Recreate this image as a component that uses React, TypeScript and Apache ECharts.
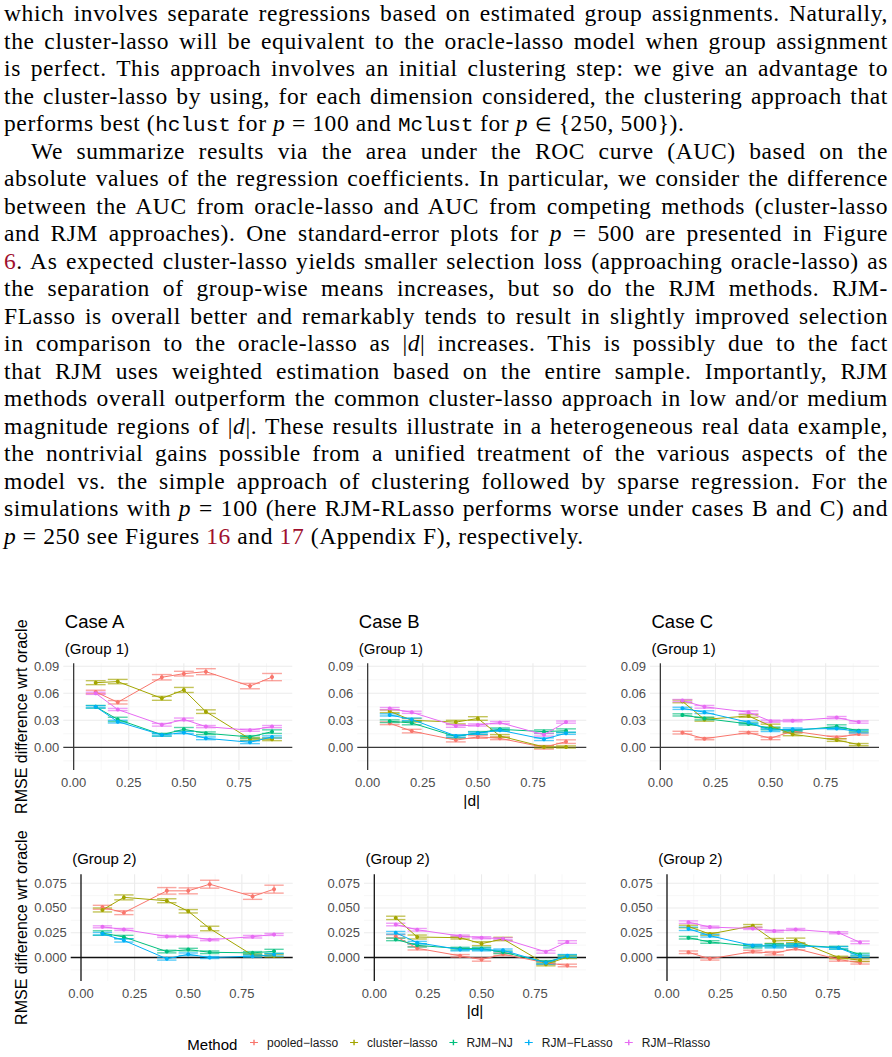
import React, { useEffect, useRef } from "react";
import * as echarts from "echarts";

// ---------------- data ----------------
const dValues = [0.1, 0.2, 0.4, 0.5, 0.6, 0.8, 0.9];
const methods = ["pooled\u2212lasso", "cluster\u2212lasso", "RJM\u2212NJ", "RJM\u2212FLasso", "RJM\u2212Rlasso"];
const colors = ["#F8766D", "#A3A500", "#00BF7D", "#00B0F6", "#E76BF3"];
const caseTitles = ["Case A", "Case B", "Case C"];
const groupTitles = ["(Group 1)", "(Group 2)"];
const xTicks = [0, 0.25, 0.5, 0.75];
const xMinor = [0.125, 0.375, 0.625, 0.875];
const yTicksG1 = [0, 0.03, 0.06, 0.09];
const yMinorG1 = [-0.015, 0.015, 0.045, 0.075];
const yTicksG2 = [0, 0.025, 0.05, 0.075];
const yMinorG2 = [-0.0125, 0.0125, 0.0375, 0.0625];

// Case A, Group 1
const A1_pooled = [0.0615, 0.05, 0.0778, 0.0818, 0.084, 0.068, 0.078];
const A1_cluster = [0.0718, 0.073, 0.0544, 0.0637, 0.0396, 0.0093, 0.0089];
const A1_nj = [0.045, 0.031, 0.014, 0.02, 0.0156, 0.0115, 0.0174];
const A1_flasso = [0.045, 0.0285, 0.0137, 0.0163, 0.01, 0.0056, 0.0115];
const A1_rlasso = [0.06, 0.042, 0.025, 0.031, 0.023, 0.019, 0.023];
// Case B, Group 1
const B1_pooled = [0.0267, 0.018, 0.008, 0.0115, 0.01, 0.0, 0.0063];
const B1_cluster = [0.04, 0.03, 0.028, 0.032, 0.0126, 0.0004, 0.0004];
const B1_nj = [0.029, 0.027, 0.012, 0.016, 0.02, 0.0174, 0.0185];
const B1_flasso = [0.036, 0.031, 0.0126, 0.0156, 0.019, 0.009, 0.0156];
const B1_rlasso = [0.043, 0.0389, 0.0237, 0.0248, 0.0274, 0.014, 0.028];
// Case C, Group 1
const C1_pooled = [0.0163, 0.0096, 0.0163, 0.01, 0.018, 0.011, 0.0148];
const C1_cluster = [0.051, 0.031, 0.0348, 0.0237, 0.0144, 0.0081, 0.003];
const C1_nj = [0.036, 0.032, 0.026, 0.021, 0.0185, 0.023, 0.0185];
const C1_flasso = [0.0433, 0.039, 0.0278, 0.019, 0.02, 0.021, 0.0174];
const C1_rlasso = [0.0519, 0.045, 0.039, 0.029, 0.0296, 0.033, 0.028];
// Case A, Group 2
const A2_pooled = [0.0507, 0.0453, 0.0673, 0.0673, 0.074, 0.0617, 0.069];
const A2_cluster = [0.048, 0.0607, 0.0573, 0.0467, 0.0293, 0.0023, 0.0017];
const A2_nj = [0.0247, 0.0207, 0.006, 0.008, 0.0053, 0.0047, 0.0063];
const A2_flasso = [0.024, 0.0173, -0.0013, 0.0033, 0.0, 0.0013, 0.0027];
const A2_rlasso = [0.031, 0.0283, 0.0213, 0.0213, 0.018, 0.021, 0.0233];
// Case B, Group 2
const B2_pooled = [0.0213, 0.0093, 0.0017, -0.002, 0.0033, -0.0053, -0.008];
const B2_cluster = [0.04, 0.0207, 0.02, 0.014, 0.0187, -0.0067, 0.0003];
const B2_nj = [0.0183, 0.0123, 0.009, 0.009, 0.0053, -0.0047, 0.0013];
const B2_flasso = [0.025, 0.015, 0.008, 0.008, 0.0073, -0.0053, 0.0017];
const B2_rlasso = [0.0333, 0.028, 0.0217, 0.02, 0.019, 0.0057, 0.0157];
// Case C, Group 2
const C2_pooled = [0.0053, -0.0013, 0.006, 0.0043, 0.009, -0.002, -0.0053];
const C2_cluster = [0.0313, 0.0237, 0.032, 0.0167, 0.0173, 0.0, -0.0027];
const C2_nj = [0.02, 0.0157, 0.0113, 0.0123, 0.0127, 0.01, 0.003];
const C2_flasso = [0.029, 0.022, 0.012, 0.0113, 0.012, 0.0097, 0.0013];
const C2_rlasso = [0.0357, 0.0307, 0.0293, 0.0267, 0.0283, 0.025, 0.0153];

// standard errors (one per method, per panel)
const seA1 = [
  [0.0019, 0.0019, 0.003, 0.0026, 0.0033, 0.003, 0.004],
  [0.0022, 0.0024, 0.0022, 0.0028, 0.002, 0.0015, 0.0015],
  [0.0015, 0.0024, 0.0015, 0.002, 0.0015, 0.0015, 0.002],
  [0.0012, 0.0015, 0.0012, 0.0012, 0.0015, 0.0015, 0.0012],
  [0.0012, 0.0012, 0.0015, 0.0015, 0.0012, 0.0012, 0.0012],
];
const seB1 = [
  [0.0015, 0.002, 0.002, 0.0015, 0.0015, 0.002, 0.002],
  [0.0015, 0.002, 0.002, 0.002, 0.0015, 0.0012, 0.0012],
  [0.0015, 0.002, 0.0015, 0.0015, 0.0015, 0.002, 0.002],
  [0.0012, 0.0015, 0.0012, 0.0012, 0.0012, 0.0015, 0.0012],
  [0.0012, 0.0012, 0.0015, 0.0012, 0.0012, 0.0015, 0.0012],
];
const seC1 = [
  [0.0015, 0.0012, 0.0012, 0.0015, 0.0015, 0.0015, 0.0012],
  [0.0015, 0.002, 0.0015, 0.002, 0.0015, 0.0015, 0.0012],
  [0.0012, 0.0015, 0.0012, 0.0015, 0.0012, 0.002, 0.0012],
  [0.0012, 0.0015, 0.0015, 0.0015, 0.0015, 0.0012, 0.0015],
  [0.0012, 0.0015, 0.0015, 0.0012, 0.0012, 0.0012, 0.0012],
];
const seA2 = [
  [0.002, 0.002, 0.0033, 0.003, 0.004, 0.003, 0.004],
  [0.002, 0.0025, 0.002, 0.0017, 0.0023, 0.0013, 0.0013],
  [0.0023, 0.0017, 0.0013, 0.0013, 0.0013, 0.0013, 0.002],
  [0.0013, 0.0017, 0.0013, 0.0013, 0.001, 0.001, 0.0013],
  [0.001, 0.001, 0.001, 0.001, 0.001, 0.0013, 0.001],
];
const seB2 = [
  [0.0017, 0.0017, 0.0013, 0.0017, 0.0013, 0.0017, 0.0013],
  [0.0017, 0.002, 0.0013, 0.002, 0.0017, 0.0017, 0.0013],
  [0.0013, 0.0017, 0.0013, 0.0013, 0.0013, 0.0017, 0.0013],
  [0.0013, 0.0013, 0.0013, 0.0013, 0.0013, 0.0013, 0.0013],
  [0.0013, 0.0013, 0.001, 0.001, 0.001, 0.0013, 0.0013],
];
const seC2 = [
  [0.0013, 0.0013, 0.0013, 0.0017, 0.0013, 0.0017, 0.0013],
  [0.0013, 0.0013, 0.0013, 0.0025, 0.0023, 0.0013, 0.0013],
  [0.0013, 0.0013, 0.0017, 0.0017, 0.0013, 0.0013, 0.0013],
  [0.0017, 0.0013, 0.0013, 0.0017, 0.0017, 0.0013, 0.0013],
  [0.0013, 0.001, 0.001, 0.001, 0.001, 0.001, 0.0013],
];

const panelMeans = [
  [A1_pooled, A1_cluster, A1_nj, A1_flasso, A1_rlasso],
  [B1_pooled, B1_cluster, B1_nj, B1_flasso, B1_rlasso],
  [C1_pooled, C1_cluster, C1_nj, C1_flasso, C1_rlasso],
  [A2_pooled, A2_cluster, A2_nj, A2_flasso, A2_rlasso],
  [B2_pooled, B2_cluster, B2_nj, B2_flasso, B2_rlasso],
  [C2_pooled, C2_cluster, C2_nj, C2_flasso, C2_rlasso],
];
const panelSes = [seA1, seB1, seC1, seA2, seB2, seC2];

// ---------------- layout ----------------
const FONT = "Liberation Sans, Arial, sans-serif";
const topLefts = [63.3, 357.3, 650];
const botLefts = [70.7, 364, 656.7];
const layout = [0, 1, 2, 3, 4, 5].map((i) => {
  const row = i < 3 ? 0 : 1;
  const col = i % 3;
  return row === 0
    ? { left: topLefts[col], top: 663.3, width: 229, height: 106.7, xMin: -0.047, xMax: 0.992, yMin: -0.0252, yMax: 0.0933, row, col }
    : { left: botLefts[col], top: 874.3, width: 222, height: 106.7, xMin: -0.048, xMax: 0.987, yMin: -0.0237, yMax: 0.084, row, col };
});

function buildOption() {
  const grid: any[] = [];
  const xAxis: any[] = [];
  const yAxis: any[] = [];
  const series: any[] = [];
  const graphic: any[] = [];

  layout.forEach((p, i) => {
    grid.push({ left: p.left, top: p.top, width: p.width, height: p.height, containLabel: false });
    xAxis.push({
      gridIndex: i, type: "value", min: p.xMin, max: p.xMax,
      axisLine: { show: false }, axisTick: { show: false }, splitLine: { show: false },
      axisLabel: { customValues: xTicks, formatter: (v: number) => v.toFixed(2), color: "#4D4D4D", fontSize: 13, margin: 6, fontFamily: FONT },
    });
    const yt = p.row === 0 ? yTicksG1 : yTicksG2;
    const ym = p.row === 0 ? yMinorG1 : yMinorG2;
    const dig = p.row === 0 ? 2 : 3;
    yAxis.push({
      gridIndex: i, type: "value", min: p.yMin, max: p.yMax,
      axisLine: { show: false }, axisTick: { show: false }, splitLine: { show: false },
      axisLabel: { customValues: yt, formatter: (v: number) => v.toFixed(dig), color: "#4D4D4D", fontSize: 13, margin: 4, fontFamily: FONT },
    });

    // grid lines (kind: 0 major x, 1 minor x, 2 major y, 3 minor y, 4 zero vline, 5 zero hline)
    const gl: number[][] = [];
    xTicks.filter((v) => v !== 0).forEach((v) => gl.push([v, 0]));
    xMinor.forEach((v) => gl.push([v, 1]));
    yt.filter((v) => v !== 0).forEach((v) => gl.push([v, 2]));
    ym.forEach((v) => gl.push([v, 3]));
    gl.push([0, 4]);
    gl.push([0, 5]);
    const zeroColor = p.row === 0 ? "#3a3a3a" : "#111";
    series.push({
      type: "custom", xAxisIndex: i, yAxisIndex: i, silent: true, z: 0, clip: false,
      data: gl,
      renderItem: (params: any, api: any) => {
        const v = api.value(0);
        const k = api.value(1);
        const cs = params.coordSys;
        let stroke = "#EBEBEB";
        let lw = 1.1;
        if (k === 1 || k === 3) { stroke = "#F3F3F3"; lw = 0.7; }
        if (k >= 4) { stroke = zeroColor; lw = 1.3; }
        if (k === 0 || k === 1 || k === 4) {
          const px = api.coord([v, 0])[0];
          return { type: "line", z2: k >= 4 ? 10 : 0, shape: { x1: px, y1: cs.y, x2: px, y2: cs.y + cs.height }, style: { stroke, lineWidth: lw } };
        }
        const py = api.coord([0, v])[1];
        return { type: "line", z2: k >= 4 ? 10 : 0, shape: { x1: cs.x, y1: py, x2: cs.x + cs.width, y2: py }, style: { stroke, lineWidth: lw } };
      },
    });

    methods.forEach((m, mi) => {
      const mean = panelMeans[i][mi];
      const se = panelSes[i][mi];
      const color = colors[mi];
      series.push({
        type: "custom", name: m, xAxisIndex: i, yAxisIndex: i, silent: true, z: 2, clip: false,
        itemStyle: { color },
        encode: { x: 0, y: 1 },
        data: dValues.map((d, j) => [d, mean[j], se[j]]),
        renderItem: (_params: any, api: any) => {
          const x = api.value(0);
          const y = api.value(1);
          const s = api.value(2);
          const top = api.coord([x, y + s]);
          const bot = api.coord([x, y - s]);
          const l = api.coord([x - 0.045, y])[0];
          const r = api.coord([x + 0.045, y])[0];
          const st = { stroke: color, lineWidth: 1.4, opacity: 0.65 };
          return {
            type: "group",
            children: [
              { type: "line", shape: { x1: top[0], y1: top[1], x2: bot[0], y2: bot[1] }, style: st },
              { type: "line", shape: { x1: l, y1: top[1], x2: r, y2: top[1] }, style: st },
              { type: "line", shape: { x1: l, y1: bot[1], x2: r, y2: bot[1] }, style: st },
            ],
          };
        },
      });
      series.push({
        type: "line", name: m, xAxisIndex: i, yAxisIndex: i, z: 3,
        data: dValues.map((d, j) => [d, mean[j]]),
        symbol: "circle", symbolSize: 4, showSymbol: true,
        lineStyle: { color, width: 1 }, itemStyle: { color },
        emphasis: { disabled: true },
      });
    });

    // panel titles
    if (p.row === 0) {
      graphic.push({ type: "text", x: p.left + 1.5, y: 621.7, style: { text: caseTitles[p.col], font: `18.5px ${FONT}`, fill: "#000", verticalAlign: "middle", align: "left" } });
    }
    graphic.push({
      type: "text", x: p.left + 1.5, y: p.row === 0 ? 648 : 858.3,
      style: { text: groupTitles[p.row], font: `15px ${FONT}`, fill: "#000", verticalAlign: "middle", align: "left" },
    });
  });

  // axis titles
  [716.7, 927.7].forEach((cy) => {
    graphic.push({ type: "text", x: 21.5, y: cy, rotation: Math.PI / 2, style: { text: "RMSE difference wrt oracle", font: `16px ${FONT}`, fill: "#000", align: "center", verticalAlign: "middle" } });
  });
  graphic.push({ type: "text", x: 471.7, y: 800.7, style: { text: "|d|", font: `15.5px ${FONT}`, fill: "#000", align: "center", verticalAlign: "middle" } });
  graphic.push({ type: "text", x: 475, y: 1010.7, style: { text: "|d|", font: `15.5px ${FONT}`, fill: "#000", align: "center", verticalAlign: "middle" } });
  graphic.push({ type: "text", x: 187.3, y: 1044.5, style: { text: "Method", font: `15px ${FONT}`, fill: "#000", align: "left", verticalAlign: "middle" } });

  const icon = "path://M0,2.6h8v1.2h-8z M3.3,0.4h1.4v5.6h-1.4z";

  return {
    animation: false,
    backgroundColor: "transparent",
    textStyle: { fontFamily: FONT },
    grid, xAxis, yAxis, series, graphic,
    legend: {
      left: 250, top: 1036.5, orient: "horizontal", padding: 0,
      itemWidth: 8, itemHeight: 6, itemGap: 12,
      data: methods.map((m) => ({ name: m, icon })),
      textStyle: { fontSize: 12, color: "#1A1A1A", fontFamily: FONT, padding: [0, 0, 0, 4] },
      selectedMode: false,
    },
  };
}

const italic = (s: string) => <i>{s}</i>;
const mono = (s: string) => <span style={{ fontFamily: "Liberation Mono, DejaVu Sans Mono, monospace", fontSize: 21, letterSpacing: 0 }}>{s}</span>;
const link = (s: string) => <span style={{ color: "#A0102E" }}>{s}</span>;
const elem = <span style={{ fontSize: 19 }}>{"\u2208"}</span>;

const paragraphLines: { content: React.ReactNode; last?: boolean; indent?: boolean }[] = [
  { content: <>which involves separate regressions based on estimated group assignments. Naturally,</> },
  { content: <>the cluster-lasso will be equivalent to the oracle-lasso model when group assignment</> },
  { content: <>is perfect. This approach involves an initial clustering step: we give an advantage to</> },
  { content: <>the cluster-lasso by using, for each dimension considered, the clustering approach that</> },
  { content: <>performs best ({mono("hclust")} for {italic("p")} = 100 and {mono("Mclust")} for {italic("p")} {elem} {"{"}250, 500{"}"}).</>, last: true },
  { content: <>We summarize results via the area under the ROC curve (AUC) based on the</>, indent: true },
  { content: <>absolute values of the regression coefficients. In particular, we consider the difference</> },
  { content: <>between the AUC from oracle-lasso and AUC from competing methods (cluster-lasso</> },
  { content: <>and RJM approaches). One standard-error plots for {italic("p")} = 500 are presented in Figure</> },
  { content: <>{link("6")}. As expected cluster-lasso yields smaller selection loss (approaching oracle-lasso) as</> },
  { content: <>the separation of group-wise means increases, but so do the RJM methods. RJM-</> },
  { content: <>FLasso is overall better and remarkably tends to result in slightly improved selection</> },
  { content: <>in comparison to the oracle-lasso as |{italic("d")}| increases. This is possibly due to the fact</> },
  { content: <>that RJM uses weighted estimation based on the entire sample. Importantly, RJM</> },
  { content: <>methods overall outperform the common cluster-lasso approach in low and/or medium</> },
  { content: <>magnitude regions of |{italic("d")}|. These results illustrate in a heterogeneous real data example,</> },
  { content: <>the nontrivial gains possible from a unified treatment of the various aspects of the</> },
  { content: <>model vs. the simple approach of clustering followed by sparse regression. For the</> },
  { content: <>simulations with {italic("p")} = 100 (here RJM-RLasso performs worse under cases B and C) and</> },
  { content: <>{italic("p")} = 250 see Figures {link("16")} and {link("17")} (Appendix F), respectively.</>, last: true },
];

export default function App() {
  const ref = useRef<HTMLDivElement>(null);
  useEffect(() => {
    if (!ref.current) return;
    const chart = echarts.init(ref.current, null, { renderer: "svg" });
    chart.setOption(buildOption() as any);
    return () => chart.dispose();
  }, []);
  return (
    <>
      <div ref={ref} style={{ position: "absolute", left: 0, top: 0, width: 892, height: 1057 }} />
      <div
        style={{
          position: "absolute", left: 4, top: 0, width: 884,
          fontFamily: "Liberation Serif, Times New Roman, serif", fontSize: 23.5, letterSpacing: 0.6, color: "#000",
        }}
      >
        {paragraphLines.map((l, i) => (
          <div
            key={i}
            style={{
              height: 27.5, lineHeight: "27.5px",
              textAlign: l.last ? "left" : "justify",
              textAlignLast: l.last ? "left" : "justify",
              paddingLeft: l.indent ? 27 : 0,
              overflow: "visible",
            }}
          >
            {l.content}
          </div>
        ))}
      </div>
    </>
  );
}
